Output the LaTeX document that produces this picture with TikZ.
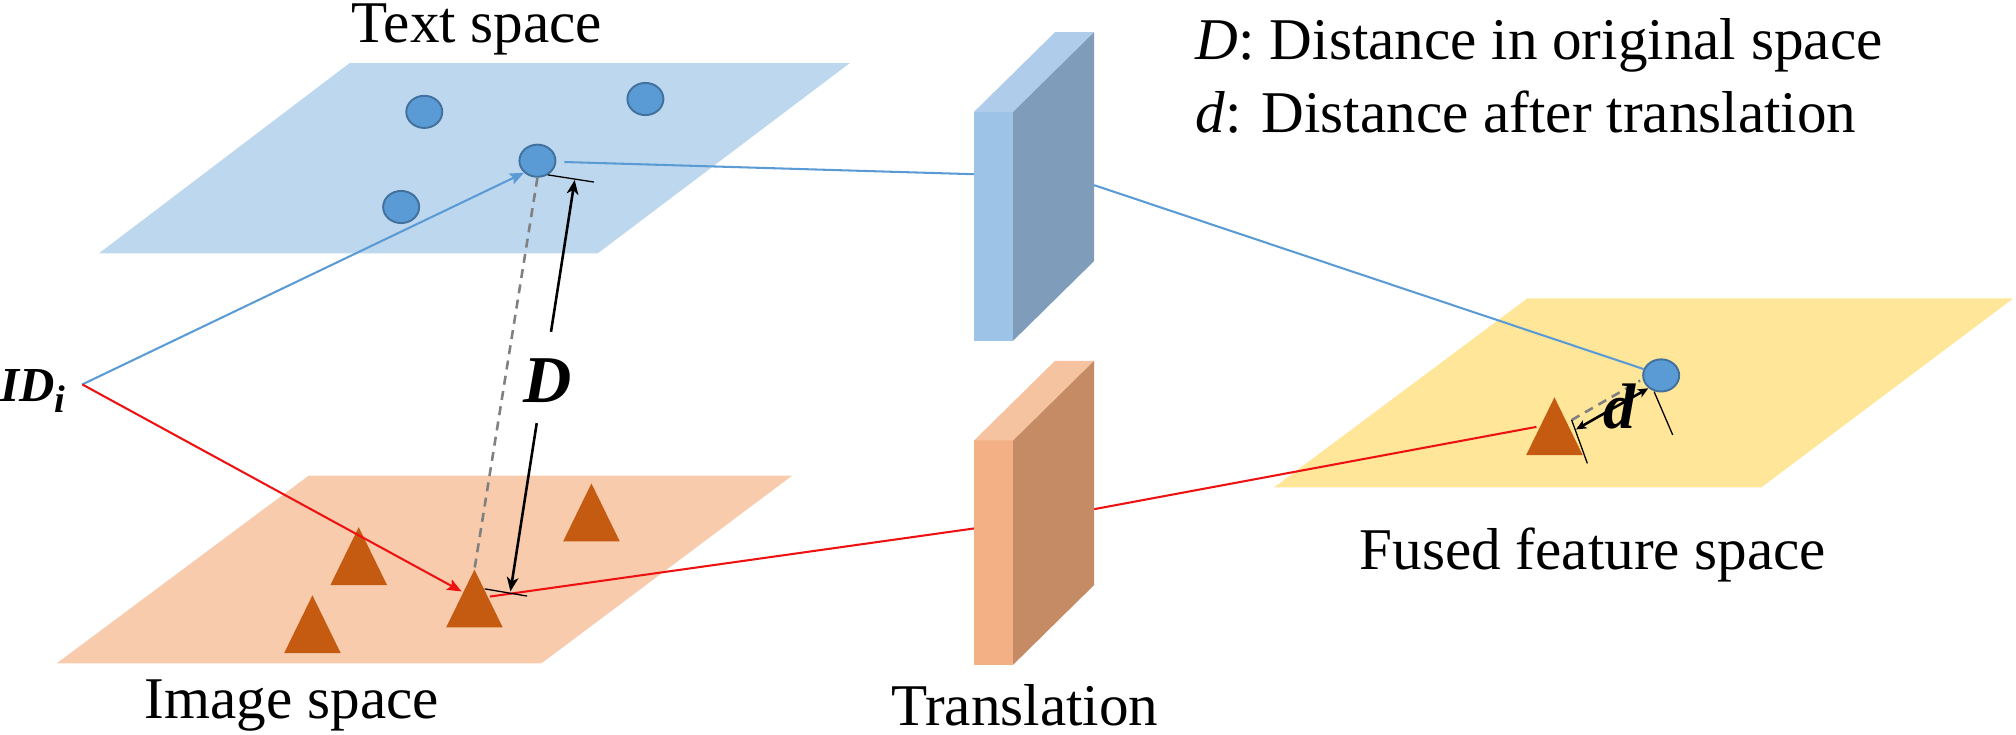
\documentclass[tikz,border=0pt]{standalone}
\usepackage{fontspec}
\setmainfont{Liberation Serif}
\usetikzlibrary{shapes.geometric,arrows.meta,calc}
\definecolor{planeblue}{HTML}{BDD7EE}
\definecolor{planeorange}{HTML}{F8CBAD}
\definecolor{planeyellow}{HTML}{FFE699}
\definecolor{dotblue}{HTML}{5B9BD5}
\definecolor{dotedge}{HTML}{41719C}
\definecolor{triorange}{HTML}{C55A11}
\definecolor{lineblue}{HTML}{5B9BD5}
\definecolor{linered}{HTML}{EE1111}
\definecolor{bfront}{HTML}{9DC3E6}
\definecolor{btop}{HTML}{AFCCEA}
\definecolor{bright}{HTML}{7F9DBA}
\definecolor{ofront}{HTML}{F2B084}
\definecolor{otop}{HTML}{F6C3A0}
\definecolor{oright}{HTML}{C48B64}
\definecolor{dashgray}{HTML}{808080}
\tikzset{
  dot/.style={ellipse, fill=dotblue, draw=dotedge, line width=1.5pt,
    minimum width=28pt, minimum height=25pt, inner sep=0pt},
  tri/.pic={\fill[triorange] (0,0) -- (-22,45) -- (22,45) -- cycle;},
  bline/.style={draw=lineblue, line width=1.6pt},
  rline/.style={draw=linered, line width=1.6pt},
  tip/.style={-{Stealth[length=11pt,width=9pt,inset=2pt]}},
  dimarrow/.style={draw=black, line width=2pt, -{Stealth[length=11pt,width=9pt,inset=3pt]}},
  extline/.style={draw=black, line width=1pt},
  dashline/.style={draw=dashgray, line width=2pt, dash pattern=on 7pt off 5pt},
  lbl/.style={inner sep=0pt, font=\fontsize{46}{50}\selectfont},
}
\begin{document}
\begin{tikzpicture}[x=1pt,y=-1pt]
\useasboundingbox (0,0) rectangle (1568,571);
% planes
\fill[planeblue] (272,49) -- (661,49) -- (465,197) -- (77,197) -- cycle;
\fill[planeorange] (240,370) -- (616,370) -- (421,516) -- (44,516) -- cycle;
\fill[planeyellow] (1188,232) -- (1566,232) -- (1370,379) -- (991,379) -- cycle;
% text-space dots
\node[dot] (c1) at (330,87) {};
\node[dot] (c2) at (502,77) {};
\node[dot] (c3) at (418,125) {};
\node[dot] (c4) at (312,161) {};
\node[dot] (c5) at (1292,292) {};
% image-space triangles
\coordinate (t1) at (279,410);
\coordinate (t2) at (243,463);
\coordinate (t3) at (369,443);
\coordinate (t4) at (460,376);
\coordinate (t5) at (1209,309);
\foreach \t in {t1,t2,t3,t4,t5} \pic at (\t) {tri};
% connection points
\coordinate (id) at (64,299);
\coordinate (c3out) at (439,126);
\coordinate (t3in) at (359,460);
\coordinate (t3out) at (381,464);
\coordinate (bin) at (757.6,135.5);
\coordinate (bout) at (851,144);
\coordinate (oin) at (757.6,411);
\coordinate (oout) at (851,396);
\coordinate (t5in) at (1195,332);
% ID arrows
\draw[bline,tip] (id) -- (c3.south west);
\draw[rline,tip] (id) -- (t3in);
% translation lines
\draw[bline] (c3out) -- (bin);
\draw[bline] (bout) -- (c5.160);
\draw[rline] (t3out) -- (oin);
\draw[rline] (oout) -- (t5in);
% blocks
\fill[bfront] (757.6,87) rectangle (788,265);
\fill[btop] (757.6,87) -- (788,87) -- (851,25) -- (820.6,25) -- cycle;
\fill[bright] (788,87) -- (851,25) -- (851,203) -- (788,265) -- cycle;
\fill[ofront] (757.6,342.6) rectangle (788,517);
\fill[otop] (757.6,342.6) -- (788,342.6) -- (851,280.6) -- (820.6,280.6) -- cycle;
\fill[oright] (788,342.6) -- (851,280.6) -- (851,455) -- (788,517) -- cycle;
% distance D
\draw[dashline] (c3.south) -- (t3);
\coordinate (dtop) at (447,140);
\coordinate (dbot) at (397,460);
\draw[extline] (426,136) -- (462,141.6);
\draw[extline] (377,458) -- (410,463.6);
\draw[dimarrow] ($(dbot)!0.631!(dtop)$) -- (dtop);
\draw[dimarrow] ($(dbot)!0.409!(dtop)$) -- (dbot);
\node[lbl] (Dlbl) at (426,296) {\fontsize{52}{54}\selectfont\bfseries\itshape D};
% distance d
\draw[dashline] (1222.4,326.7) -- (1275.6,296);
\draw[extline] (1222.4,326.7) -- (1234.6,360.4);
\draw[extline] (1286.5,304.6) -- (1301,338.3);
\draw[draw=black, line width=2pt, {Stealth[length=8pt,width=7pt,inset=2pt]}-{Stealth[length=8pt,width=7pt,inset=2pt]}] (1225.8,334) -- (1282,302);
\node[lbl] (dlbl) at (1260,316) {\fontsize{50}{52}\selectfont\bfseries\itshape d};
% ID label
\node[inner sep=0pt, anchor=base west] (idl) at (0,312)
  {\fontsize{38}{40}\selectfont\bfseries\itshape ID\raisebox{-9pt}{\fontsize{30}{32}\selectfont i}};
% titles
\node[lbl, anchor=base] (ts) at (371,33) {Text space};
\node[lbl, anchor=base] (is) at (227,559) {Image space};
\node[lbl, anchor=base] (tr) at (797,564) {Translation};
\node[lbl, anchor=base] (fs) at (1239,443) {Fused feature space};
\node[lbl, anchor=base west] (lg1) at (930,46) {\textit{D}: Distance in original space};
\node[lbl, anchor=base west] (lg2) at (930,103) {\textit{d}: Distance after translation};
\end{tikzpicture}
\end{document}
